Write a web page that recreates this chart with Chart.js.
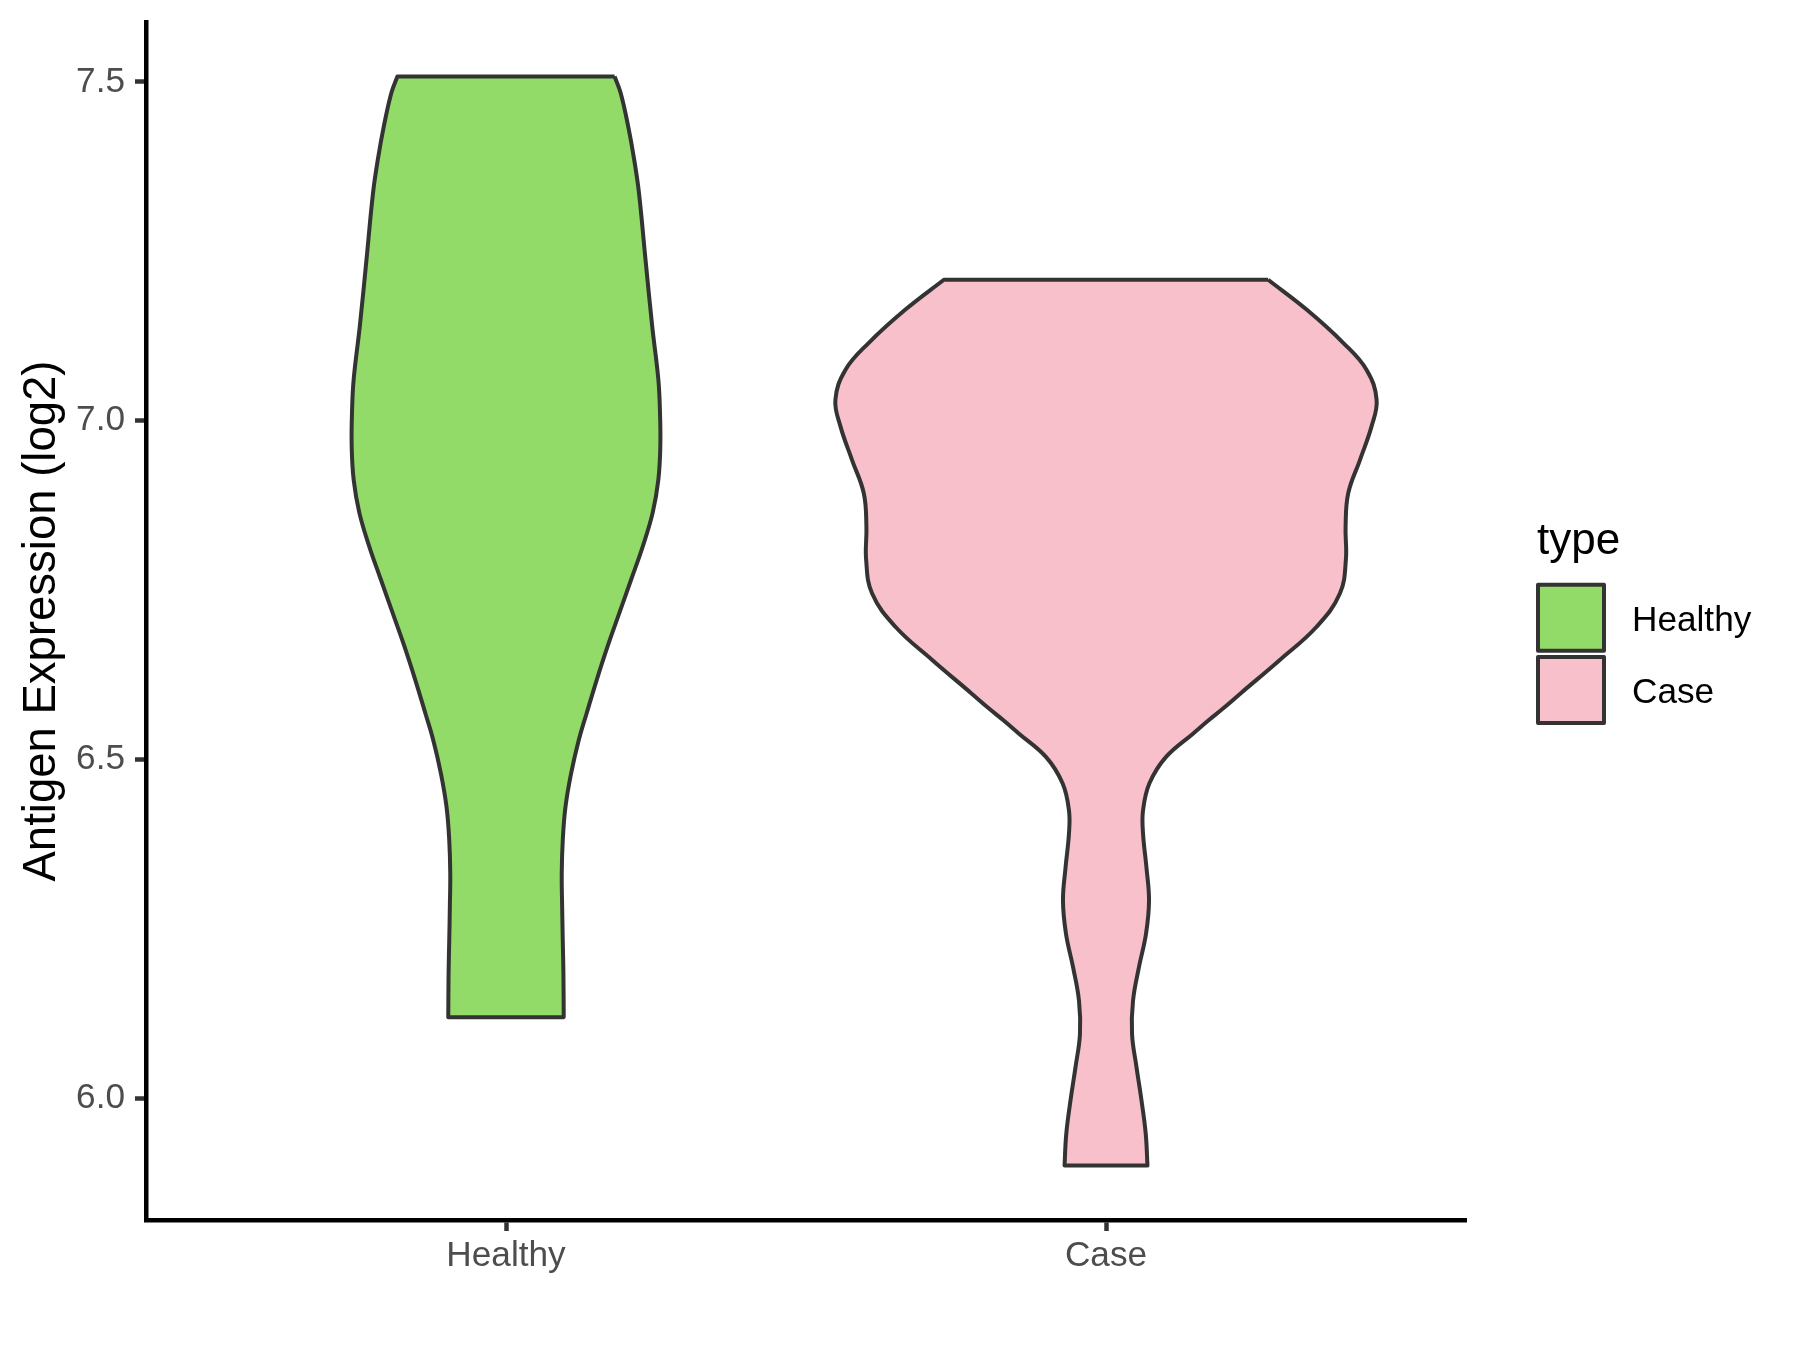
<!DOCTYPE html>
<html>
<head>
<meta charset="utf-8">
<script src="https://cdn.jsdelivr.net/npm/chart.js@4.4.1/dist/chart.umd.min.js"></script>
<style>
  html, body { margin: 0; padding: 0; background: #ffffff; }
  #wrap { width: 1800px; height: 1350px; }
</style>
</head>
<body>
<div id="wrap"><canvas id="c" width="1800" height="1350"></canvas></div>
<script>
// ---- data ----
const categories = ['Healthy', 'Case'];
const legendTitle = 'type';
const yTitle = 'Antigen Expression (log2)';
const yTicks = [6.0, 6.5, 7.0, 7.5];

// violin outlines: expression level and half-width (in category units)
const healthyY = [7.508, 7.484, 7.435, 7.386, 7.337, 7.238, 7.139, 7.061, 7.011, 6.962, 6.913, 6.864, 6.814, 6.765, 6.716, 6.667, 6.617, 6.568, 6.529, 6.480, 6.430, 6.381, 6.332, 6.282, 6.233, 6.184, 6.120];
const healthyHalfWidth = [0.181, 0.191, 0.2035, 0.2135, 0.2215, 0.2325, 0.2437, 0.2539, 0.2567, 0.2572, 0.2539, 0.2444, 0.2277, 0.2083, 0.1888, 0.1693, 0.151, 0.1343, 0.1213, 0.1086, 0.0991, 0.0946, 0.0929, 0.0936, 0.0946, 0.0957, 0.0962];

const caseY = [7.208, 7.164, 7.115, 7.075, 7.031, 6.992, 6.942, 6.893, 6.844, 6.795, 6.745, 6.696, 6.647, 6.598, 6.575, 6.558, 6.539, 6.504, 6.465, 6.425, 6.391, 6.341, 6.292, 6.243, 6.194, 6.144, 6.095, 6.047, 5.998, 5.948, 5.901];
const caseHalfWidth = [0.2702, 0.3343, 0.3953, 0.4344, 0.451, 0.4427, 0.4232, 0.4037, 0.3993, 0.3998, 0.3898, 0.351, 0.2897, 0.2247, 0.1945, 0.171, 0.146, 0.1001, 0.0724, 0.0617, 0.0617, 0.0674, 0.0717, 0.0667, 0.055, 0.045, 0.0434, 0.0507, 0.059, 0.0662, 0.0691];

const fillColors = ['#93DB69', '#F7C0CB'];

// ---- build outlines (closed polygons); corner rows are repeated so the
// spline keeps the flat top/bottom edges sharp ----
function outline(center, ys, ws) {
  const n = ys.length;
  const pts = [];
  for (let i = 0; i < n; i++) pts.push({x: center + ws[i], y: ys[i]});
  pts.push({x: center + ws[n - 1], y: ys[n - 1]});
  pts.push({x: center - ws[n - 1], y: ys[n - 1]});
  for (let i = n - 1; i >= 0; i--) pts.push({x: center - ws[i], y: ys[i]});
  pts.push({x: center - ws[0], y: ys[0]});
  pts.push({x: center + ws[0], y: ys[0]});
  return pts;
}

const allY = healthyY.concat(caseY);
const yLo = Math.min(...allY), yHi = Math.max(...allY);
const yExp = (yHi - yLo) * 0.05;

const FONT = '"Liberation Sans", Arial, Helvetica, sans-serif';

const ggLegend = {
  id: 'ggLegend',
  afterDraw(chart) {
    const ctx = chart.ctx;
    ctx.save();
    ctx.textAlign = 'left';
    ctx.textBaseline = 'alphabetic';
    ctx.fillStyle = '#000000';
    ctx.font = '44px ' + FONT;
    ctx.fillText(legendTitle, 1537, 554);
    chart.data.datasets.forEach((ds, i) => {
      const x0 = 1536, y0 = 582.7 + i * 72.3, s = 70;
      ctx.fillStyle = ds.backgroundColor;
      ctx.fillRect(x0 + 2, y0 + 2, s - 4, s - 4);
      ctx.lineWidth = 4;
      ctx.lineJoin = 'round';
      ctx.strokeStyle = ds.borderColor;
      ctx.strokeRect(x0 + 2, y0 + 2, s - 4, s - 4);
      ctx.fillStyle = '#000000';
      ctx.font = '35.2px ' + FONT;
      ctx.fillText(ds.label, 1632, y0 + s / 2 + 12.8);
    });
    ctx.restore();
  }
};

function violinDataset(idx, ys, ws) {
  return {
    label: categories[idx],
    data: outline(idx + 1, ys, ws),
    backgroundColor: fillColors[idx],
    borderColor: '#333333',
    borderWidth: 4,
    borderJoinStyle: 'round',
    pointRadius: 0,
    tension: 0.4,
    fill: 'shape'
  };
}

new Chart(document.getElementById('c'), {
  type: 'line',
  data: {
    datasets: [
      violinDataset(0, healthyY, healthyHalfWidth),
      violinDataset(1, caseY, caseHalfWidth)
    ]
  },
  options: {
    responsive: false,
    animation: false,
    devicePixelRatio: 1,
    layout: { padding: { left: 0, top: 22, right: 334, bottom: 0 } },
    plugins: {
      legend: { display: false },
      tooltip: { enabled: false }
    },
    elements: { line: { capBezierPoints: false } },
    scales: {
      x: {
        type: 'linear',
        min: 0.4,
        max: 2.6,
        afterFit: (s) => { s.height = 130; s.paddingLeft = 0; s.paddingRight = 0; },
        afterBuildTicks: (s) => { s.ticks = categories.map((c, i) => ({value: i + 1})); },
        ticks: {
          autoSkip: false,
          maxRotation: 0,
          padding: 4,
          color: '#4D4D4D',
          font: { family: FONT, size: 35.2 },
          callback: (v) => categories[Math.round(v) - 1]
        },
        grid: { display: true, drawOnChartArea: false, drawTicks: true, tickLength: 11, tickWidth: 4.5, tickColor: '#333333' },
        border: { display: true, color: '#000000', width: 4.5 }
      },
      y: {
        type: 'linear',
        min: yLo - yExp,
        max: yHi + yExp,
        afterFit: (s) => { s.width = 146; s.paddingTop = 0; s.paddingBottom = 0; },
        afterBuildTicks: (s) => { s.ticks = yTicks.map(v => ({value: v})); },
        ticks: {
          padding: 10,
          color: '#4D4D4D',
          font: { family: FONT, size: 35.2 },
          callback: (v) => Number(v).toFixed(1)
        },
        grid: { display: true, drawOnChartArea: false, drawTicks: true, tickLength: 11, tickWidth: 4.5, tickColor: '#333333' },
        border: { display: true, color: '#000000', width: 4.5 },
        title: {
          display: true,
          text: yTitle,
          color: '#000000',
          font: { family: FONT, size: 45.5 },
          padding: { top: 15, bottom: 0 }
        }
      }
    }
  },
  plugins: [ggLegend]
});
</script>
</body>
</html>
